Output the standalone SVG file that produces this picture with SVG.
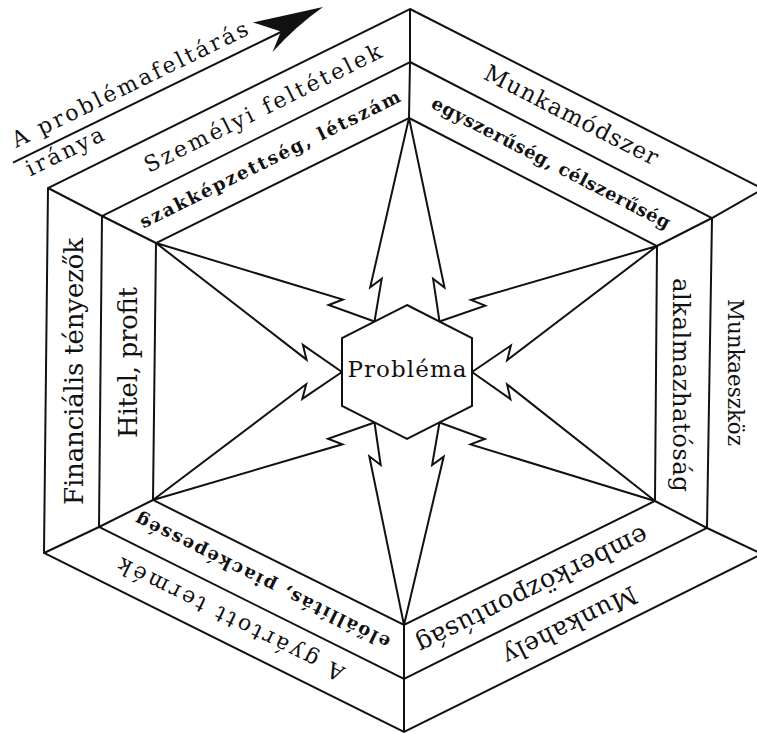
<svg xmlns="http://www.w3.org/2000/svg" width="757" height="734" viewBox="0 0 757 734">
<style>
.ln{fill:none;stroke:#111;stroke-width:2;stroke-linejoin:miter}
.tw{font-family:"DejaVu Serif","Liberation Serif",serif;fill:#111;text-anchor:middle}
.b{font-weight:bold}
.ser{font-family:"DejaVu Serif","Liberation Serif",serif;fill:#111;text-anchor:middle}
</style>
<rect width="757" height="734" fill="#fff"/>
<g id="frame" class="ln">
 <polygon points="410,9 763,189 762,554 404,732 44,553 48,188"/>
 <polygon points="410,62 712,218 707,528 404,679 99,527 102,216"/>
 <polygon points="409,118 657,246 655,501 404,625 153,500 156,243"/>
 <polyline points="410,9 410,62 409,118"/>
 <polyline points="763,189 712,218 657,246"/>
 <polyline points="762,554 707,528 655,501"/>
 <polyline points="404,732 404,679 404,625"/>
 <polyline points="44,553 99,527 153,500"/>
 <polyline points="48,188 102,216 156,243"/>
</g>
<g id="connectors" class="ln">
 <path d="M374.5,321.5 L381.7,278.8 L370.2,287.3 L409,118 L444.5,287.5 L433.1,278.8 L439.5,321.5"/>
 <path d="M439.5,321.5 L485.2,305.6 L471,300 L657,246 L507.2,360.1 L510.9,345.5 L472,372"/>
 <path d="M472,372 L510.4,399.1 L507.1,384.4 L655,501 L470.6,444.4 L484.8,439 L439.5,422.5"/>
 <path d="M439.5,422.5 L432.1,465 L443.7,456.6 L404,625 L369.3,456.3 L380.7,465 L374.5,422.5"/>
 <path d="M374.5,422.5 L328,438.8 L342.4,444.3 L153,500 L306.2,384.2 L302.3,398.9 L342,372"/>
 <path d="M342,372 L302.9,344.9 L306.5,359.6 L156,243 L342.9,299.5 L328.6,305 L374.5,321.5"/>
</g>
<g id="node-problema">
 <polygon class="ln" points="407,305 472,338 472,406 407,439 342,406 342,338"/>
 <text class="ser" font-size="23" x="407" y="377" textLength="119">Probléma</text>
</g>
<g id="direction-arrow">
 <line class="ln" x1="13" y1="162.7" x2="283" y2="31"/>
 <path d="M323,7 L253,22.5 L281,31.5 L272.5,52 Q296,26 323,7 Z" fill="#111"/>
 <text class="tw" font-size="22" transform="translate(133,91) rotate(-26)" textLength="260">A problémafeltárás</text>
 <text class="tw" font-size="22" transform="translate(68,158) rotate(-26)" textLength="84">iránya</text>
</g>
<g id="sector-szemelyi">
 <text class="tw" font-size="22" transform="translate(263,108.6) rotate(-26.4)" y="7" textLength="262">Személyi feltételek</text>
 <text class="tw b" font-size="18" transform="translate(270,159.3) rotate(-26.3)" y="6" textLength="288">szakképzettség, létszám</text>
</g>
<g id="sector-munkamodszer">
 <text class="ser" font-size="23" transform="translate(570,117.6) rotate(27.1)" y="5" textLength="192">Munkamódszer</text>
 <text class="tw b" font-size="18" transform="translate(551,163) rotate(27.3)" y="6" textLength="266">egyszerűség, célszerűség</text>
</g>
<g id="sector-munkaeszkoz">
 <text class="ser" font-size="21.5" transform="translate(736,372.5) rotate(90)" y="8" textLength="147">Munkaeszköz</text>
 <text class="ser" font-size="24.5" transform="translate(683,385) rotate(90)" y="10" textLength="214">alkalmazhatóság</text>
</g>
<g id="sector-munkahely">
 <text class="ser" font-size="25" transform="translate(569,623.4) rotate(153.6)" y="6" textLength="146">Munkahely</text>
 <text class="ser" font-size="25.5" transform="translate(531.5,588.8) rotate(153.7)" y="7" textLength="255">emberközpontúság</text>
</g>
<g id="sector-termek">
 <text class="tw" font-size="22" transform="translate(231,619) rotate(206.4)" y="7" textLength="250">A gyártott termék</text>
 <text class="tw b" font-size="18" transform="translate(262.5,581) rotate(206.4)" y="6" textLength="282">előállítás, piacképesség</text>
</g>
<g id="sector-financialis">
 <text class="ser" font-size="26" transform="translate(73,371.5) rotate(-90)" y="10" textLength="267">Financiális tényezők</text>
 <text class="ser" font-size="26" transform="translate(127,362.5) rotate(-90)" y="10" textLength="151">Hitel, profit</text>
</g>
</svg>
